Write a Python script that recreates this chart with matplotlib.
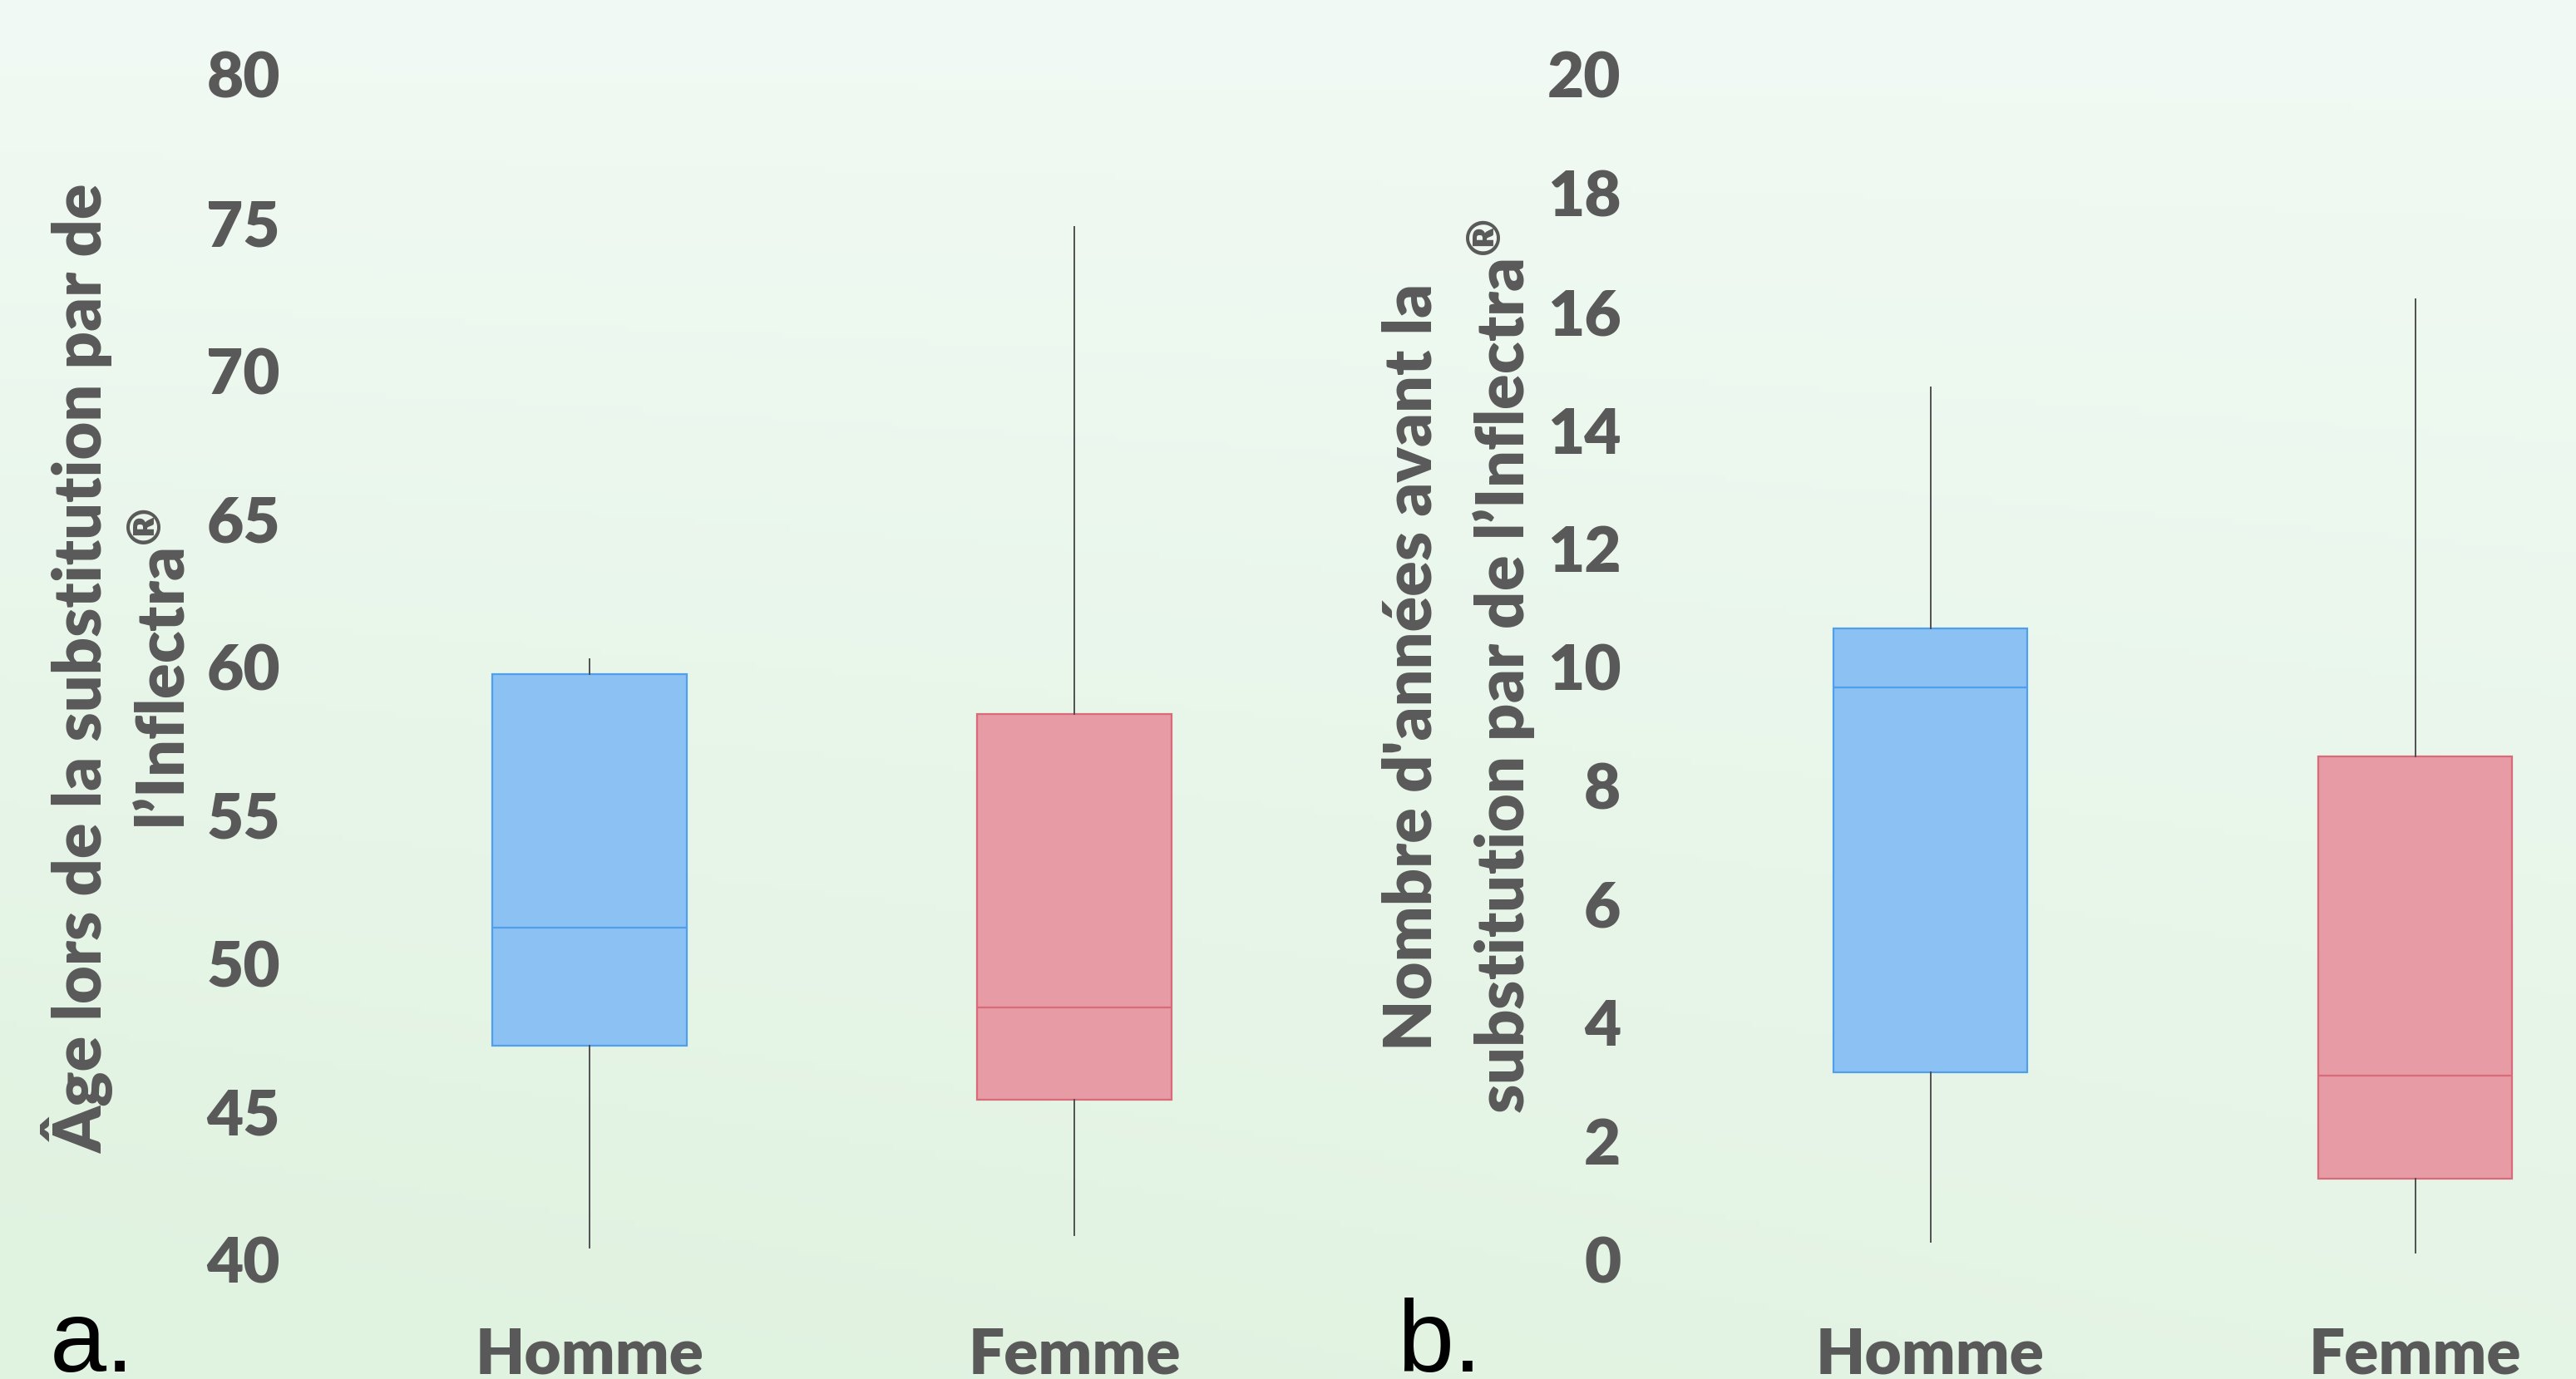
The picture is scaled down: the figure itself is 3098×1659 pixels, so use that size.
import matplotlib
matplotlib.use("Agg")
import matplotlib.pyplot as plt
import numpy as np

# box statistics: whisker low, Q1, median, Q3, whisker high
groups = ["Homme", "Femme"]
age_homme = [40.4, 47.2, 51.2, 59.75, 60.25]
age_femme = [40.8, 45.4, 48.5, 58.4, 74.85]
years_homme = [0.3, 3.15, 9.65, 10.65, 14.72]
years_femme = [0.11, 1.36, 3.1, 8.49, 16.21]

age_ticks = [40, 45, 50, 55, 60, 65, 70, 75, 80]
years_ticks = [0, 2, 4, 6, 8, 10, 12, 14, 16, 18, 20]

label_a = "Âge lors de la substitution par de\nl’Inflectra$^{®}$"
label_b = "Nombre d'années avant la\nsubstitution par de l’Inflectra$^{®}$"

fills = ["#8cc1f3", "#e69ba5"]
edges = ["#4f9fec", "#d96a7a"]
grey = "#595959"
WEIGHT = "heavy"

plt.rcParams["font.family"] = ["Lato", "DejaVu Sans"]
plt.rcParams["mathtext.fontset"] = "custom"
plt.rcParams["mathtext.rm"] = "Lato:heavy"
plt.rcParams["mathtext.default"] = "rm"

W, H = 3098, 1659
fig = plt.figure(figsize=(W / 100, H / 100), dpi=100)

# soft green background gradient
bg = fig.add_axes([0, 0, 1, 1], zorder=-10)
yy, xx = np.mgrid[0:1:200j, 0:1:300j]
t = np.clip(0.75 * yy + 0.35 * (1 - xx) * yy, 0, 1)
top = np.array([0.945, 0.98, 0.957])
bot = np.array([0.88, 0.95, 0.88])
img = top[None, None, :] * (1 - t[..., None]) + bot[None, None, :] * t[..., None]
bg.imshow(img, aspect="auto", extent=[0, 1, 0, 1], origin="upper")
bg.axis("off")


def stats(name, v):
    return dict(label=name, whislo=v[0], q1=v[1], med=v[2], q3=v[3], whishi=v[4], fliers=[])


def panel(left_px, values, ticks):
    ax = fig.add_axes([left_px / W, 1 - 1515 / H, 1166 / W, (1515 - 89.5) / H])
    ax.patch.set_alpha(0)
    data = [stats(g, v) for g, v in zip(groups, values)]
    res = ax.bxp(data, positions=[1, 2], widths=0.4, patch_artist=True,
                 showcaps=False, showfliers=False,
                 whiskerprops=dict(color="#505050", lw=1.4),
                 medianprops=dict(lw=1.6))
    for box, med, f, e in zip(res["boxes"], res["medians"], fills, edges):
        box.set_facecolor(f)
        box.set_edgecolor(e)
        box.set_linewidth(1.6)
        med.set_color(e)
    ax.set_xlim(0.5, 2.5)
    ax.set_ylim(ticks[0], ticks[-1])
    ax.set_yticks(ticks)
    for s in ax.spines.values():
        s.set_visible(False)
    ax.tick_params(axis="both", length=0, colors=grey, labelsize=55)
    ax.tick_params(axis="y", pad=58)
    ax.tick_params(axis="x", pad=58)
    for lab in ax.get_xticklabels() + ax.get_yticklabels():
        lab.set_fontweight(WEIGHT)
    return ax


ax_a = panel(417.5, [age_homme, age_femme], age_ticks)
ax_b = panel(2030, [years_homme, years_femme], years_ticks)

fig.text(143 / W, 1 - 805 / H, label_a, rotation=90, ha="center", va="center",
         multialignment="center", fontsize=57, fontweight=WEIGHT, color=grey,
         linespacing=1.4)
fig.text(1756 / W, 1 - 802 / H, label_b, rotation=90, ha="center", va="center",
         multialignment="center", fontsize=57, fontweight=WEIGHT, color=grey,
         linespacing=1.4)

fig.text(60 / W, 1 - 1650 / H, "a.", fontsize=88, family="Liberation Sans",
         color="black", va="baseline")
fig.text(1680 / W, 1 - 1650 / H, "b.", fontsize=88, family="Liberation Sans",
         color="black", va="baseline")

fig.savefig("out.png", dpi=100)
